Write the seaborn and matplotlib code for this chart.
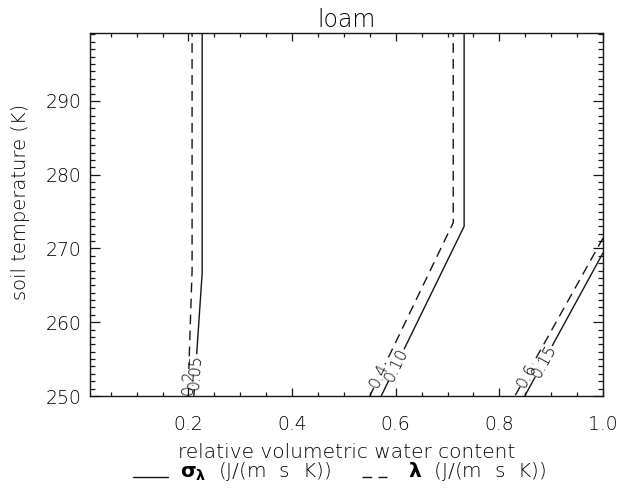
import numpy as np
import matplotlib
matplotlib.use("Agg")
import matplotlib.pyplot as plt
from matplotlib.lines import Line2D
from matplotlib.ticker import MultipleLocator, FixedLocator
import seaborn as sns

# Contour lines of thermal conductivity for loam, ordered from top to bottom
# (relative volumetric water content, soil temperature in K).
sigma_levels = ["0.05", "0.10", "0.15"]
sigma_x = [[0.2265, 0.2265, 0.2104], [0.732, 0.732, 0.572], [1.0, 0.849]]
sigma_t = [[300.0, 266.7, 250.0], [300.0, 273.0, 250.0], [269.4, 250.0]]
sigma_label_t = [253.3, 254.2, 254.7]

lambda_levels = ["0.2", "0.4", "0.6"]
lambda_x = [[0.207, 0.207, 0.199], [0.711, 0.711, 0.550], [1.0, 0.830]]
lambda_t = [[300.0, 267.0, 250.0], [300.0, 273.5, 250.0], [271.4, 250.0]]
lambda_label_t = [251.9, 252.7, 252.8]

x_ticks = [0.2, 0.4, 0.6, 0.8, 1.0]
x_tick_labels = ["0.2", "0.4", "0.6", "0.8", "1.0"]
y_ticks = [250, 260, 270, 280, 290]
y_tick_labels = ["250", "260", "270", "280", "290"]

INK = "#151515"
TXT = "#000000"

sns.set_theme(style="ticks")
plt.rcParams["font.family"] = ["DejaVu Sans"]
plt.rcParams["font.weight"] = 200
plt.rcParams["mathtext.fontset"] = "dejavusans"
plt.rcParams["text.color"] = TXT
plt.rcParams["axes.labelcolor"] = TXT
plt.rcParams["axes.titleweight"] = 200
plt.rcParams["axes.labelweight"] = 200
plt.rcParams["xtick.color"] = INK
plt.rcParams["ytick.color"] = INK
plt.rcParams["xtick.labelcolor"] = TXT
plt.rcParams["ytick.labelcolor"] = TXT

W, H = 618, 488
fig = plt.figure(figsize=(W / 100, H / 100), dpi=100)
ax = fig.add_axes([90 / W, 1 - 396 / H, 513 / W, 363 / H])
ax.set_facecolor("white")
fig.patch.set_facecolor("white")

ax.set_xlim(0.01, 1.0)
ax.set_ylim(250.0, 299.2)


def draw_contour(xs, ts, label, t_lab, style, half_gap):
    """Draw one contour line with a gap holding its rotated level label."""
    xs = np.asarray(xs, float)
    ts = np.asarray(ts, float)
    pts = ax.transData.transform(np.column_stack([xs, ts]))
    seg = np.hypot(*np.diff(pts, axis=0).T)
    s = np.concatenate([[0.0], np.cumsum(seg)])
    s_lab = np.interp(t_lab, ts[::-1], s[::-1])
    inv = ax.transData.inverted()
    for lo, hi in [(0.0, s_lab - half_gap), (s_lab + half_gap, s[-1])]:
        if hi <= lo:
            continue
        ss = np.concatenate([[lo], s[(s > lo) & (s < hi)], [hi]])
        piece = inv.transform(np.column_stack([np.interp(ss, s, pts[:, 0]),
                                               np.interp(ss, s, pts[:, 1])]))
        sns.lineplot(x=piece[:, 0], y=piece[:, 1], sort=False, estimator=None,
                     ax=ax, color=INK, lw=1.0, linestyle=style)
    i = min(max(np.searchsorted(s, s_lab), 1), len(s) - 1)
    dx, dy = pts[i] - pts[i - 1]
    ang = np.degrees(np.arctan2(dy, dx))
    if ang > 90:
        ang -= 180
    elif ang <= -90:
        ang += 180
    centre = inv.transform([[np.interp(s_lab, s, pts[:, 0]),
                             np.interp(s_lab, s, pts[:, 1])]])[0]
    ax.text(centre[0], centre[1], label, rotation=ang, rotation_mode="anchor",
            ha="center", va="center", fontsize=11.5, color=TXT, fontweight=200)


for xs, ts, lab, tl in zip(sigma_x, sigma_t, sigma_levels, sigma_label_t):
    draw_contour(xs, ts, lab, tl, "-", 18)
for xs, ts, lab, tl in zip(lambda_x, lambda_t, lambda_levels, lambda_label_t):
    draw_contour(xs, ts, lab, tl, (0, (7, 4.5)), 13)

# axes frame and ticks
for sp in ax.spines.values():
    sp.set_visible(True)
    sp.set_color(INK)
    sp.set_linewidth(1.0)

ax.xaxis.set_major_locator(FixedLocator(x_ticks))
ax.set_xticklabels(x_tick_labels)
ax.xaxis.set_minor_locator(MultipleLocator(0.05))
ax.yaxis.set_major_locator(FixedLocator(y_ticks))
ax.set_yticklabels(y_tick_labels)
ax.yaxis.set_minor_locator(MultipleLocator(1))

ax.tick_params(which="both", direction="in", top=True, right=True,
               width=0.9, labelsize=13.5)
ax.tick_params(axis="x", which="major", length=6, pad=13.5)
ax.tick_params(axis="x", which="minor", length=3)
ax.tick_params(axis="y", which="major", length=7, pad=6)
ax.tick_params(axis="y", which="minor", length=3.6)

ax.set_title("loam", fontsize=17, pad=4.3, color=TXT, fontweight=200)
ax.set_xlabel("relative volumetric water content", fontsize=14.5)
ax.xaxis.set_label_coords(0.5, -0.1708)
ax.xaxis.label.set_va("baseline")
ax.set_ylabel("soil temperature (K)", fontsize=14)
ax.yaxis.set_label_coords(-0.136, 0.534)
ax.yaxis.label.set_va("center")

# line-style key under the axis title
key_y = 1 - 477 / H
fig.add_artist(Line2D([133 / W, 168 / W], [key_y, key_y], color=INK, lw=1.0))
fig.text(180 / W, key_y,
         r"$\mathbf{\sigma}_{\mathbf{\lambda}}$  (J/(m  s  K))",
         fontsize=14.5, va="baseline", ha="left", color=TXT, fontweight=200)
fig.add_artist(Line2D([362 / W, 387 / W], [key_y, key_y], color=INK, lw=1.0,
                      linestyle=(0, (7, 4.5))))
fig.text(408 / W, key_y, r"$\mathbf{\lambda}$  (J/(m  s  K))", fontsize=14.5,
         va="baseline", ha="left", color=TXT, fontweight=200)

fig.savefig("out.png", dpi=100, facecolor="white")
